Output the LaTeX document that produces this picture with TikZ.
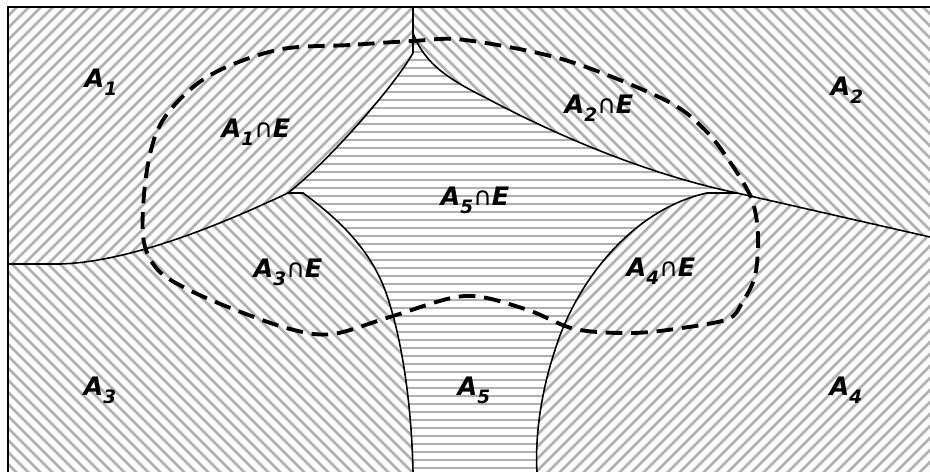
\documentclass[tikz,border=0pt]{standalone}
\usepackage{fontspec}
\setmainfont{DejaVu Sans}
\definecolor{hatchgray}{RGB}{176,176,176}
\tikzset{
  hatch/.style={hatchgray,line width=1.5pt},
  border/.style={black,line width=0.9pt},
  setE/.style={black,line width=2.2pt,dash pattern=on 9.5pt off 5pt},
  lbl/.style={font=\fontsize{14.5}{14.5}\selectfont\bfseries\itshape,inner sep=0pt}
}
\newcommand{\Ai}[1]{A\raisebox{-4.5pt}{\fontsize{10.5}{10.5}\selectfont#1}}
\newcommand{\capE}{{\mdseries ∩}E}
% outlines of the five parts
\newcommand{\regionA}{(8,7) -- (413,7) -- (413,53) .. controls (395,85) and (330,160) .. (288,193) .. controls (220,225) and (130,262) .. (60,264) -- (8,264) -- cycle}
\newcommand{\regionB}{(413,7) -- (930,7) -- (930,237) -- (737,193) .. controls (650,175) and (560,137) .. (490,100) .. controls (450,80) and (425,65) .. (413,33) -- cycle}
\newcommand{\regionC}{(8,264) -- (60,264) .. controls (130,262) and (220,225) .. (288,193) -- (303,193) .. controls (340,220) and (370,250) .. (385,290) .. controls (405,345) and (412,420) .. (413,472) -- (8,472) -- cycle}
\newcommand{\regionD}{(707,193) -- (737,193) -- (930,237) -- (930,472) -- (537,472) .. controls (535,440) and (540,395) .. (555,350) .. controls (575,285) and (630,210) .. (707,193) -- cycle}
\begin{document}
\begin{tikzpicture}[x=0.02cm,y=-0.02cm]
  \useasboundingbox (0,0) rectangle (930,472);
  \fill[white] (0,0) rectangle (930,472);
  % A5: horizontal lines under everything
  \foreach \k in {36,44,...,472} \draw[hatch] (280,\k) -- (760,\k);
  \fill[white] \regionA; \fill[white] \regionB; \fill[white] \regionC; \fill[white] \regionD;
  % A1 and A4: lines going up to the right
  \begin{scope}
    \clip \regionA;
    \foreach \k in {-480,-468,...,430} \draw[hatch] (\k,480) -- ++(480,-480);
  \end{scope}
  \begin{scope}
    \clip \regionD;
    \foreach \k in {60,72,...,940} \draw[hatch] (\k,480) -- ++(480,-480);
  \end{scope}
  % A2 and A3: lines going down to the right
  \begin{scope}
    \clip \regionB;
    \foreach \k in {-80,-68,...,940} \draw[hatch] (\k,0) -- ++(480,480);
  \end{scope}
  \begin{scope}
    \clip \regionC;
    \foreach \k in {-480,-468,...,420} \draw[hatch] (\k,0) -- ++(480,480);
  \end{scope}
  % borders between the parts
  \draw[border] (413,7) -- (413,53);
  \draw[border] (413,53) .. controls (395,85) and (330,160) .. (288,193) .. controls (220,225) and (130,262) .. (60,264) -- (8,264);
  \draw[border] (288,193) -- (303,193) .. controls (340,220) and (370,250) .. (385,290) .. controls (405,345) and (412,420) .. (413,472);
  \draw[border] (413,33) .. controls (425,65) and (450,80) .. (490,100) .. controls (560,137) and (650,175) .. (737,193) -- (930,237);
  \draw[border] (737,193) -- (707,193) .. controls (630,210) and (575,285) .. (555,350) .. controls (540,395) and (535,440) .. (537,472);
  % the set E
  \draw[setE] plot[smooth cycle,tension=0.55] coordinates {(413,41) (350,45) (277,50) (207,77) (163,120) (147,170) (143,236) (157,269) (187,289) (233,309) (290,329) (333,334) (393,316) (465,296) (525,309) (575,329) (632,333) (682,328) (728,319) (742,303) (755,276) (758,236) (752,200) (732,165) (705,130) (665,100) (565,60) (465,40)};
  % frame
  \draw[black,line width=1.2pt] (930,7) -- (8,7) -- (8,472);
  % labels
  \node[lbl] (a1) at (101,82) {\Ai{1}};
  \node[lbl] (a2) at (847,90) {\Ai{2}};
  \node[lbl] (a3) at (100,390) {\Ai{3}};
  \node[lbl] (a4) at (846,390) {\Ai{4}};
  \node[lbl] (a5) at (474,390) {\Ai{5}};
  \node[lbl] (a1e) at (256,132) {\Ai{1}\capE};
  \node[lbl] (a2e) at (599,108) {\Ai{2}\capE};
  \node[lbl] (a3e) at (288,272) {\Ai{3}\capE};
  \node[lbl] (a4e) at (661,271) {\Ai{4}\capE};
  \node[lbl] (a5e) at (475,200) {\Ai{5}\capE};
\end{tikzpicture}
\end{document}
